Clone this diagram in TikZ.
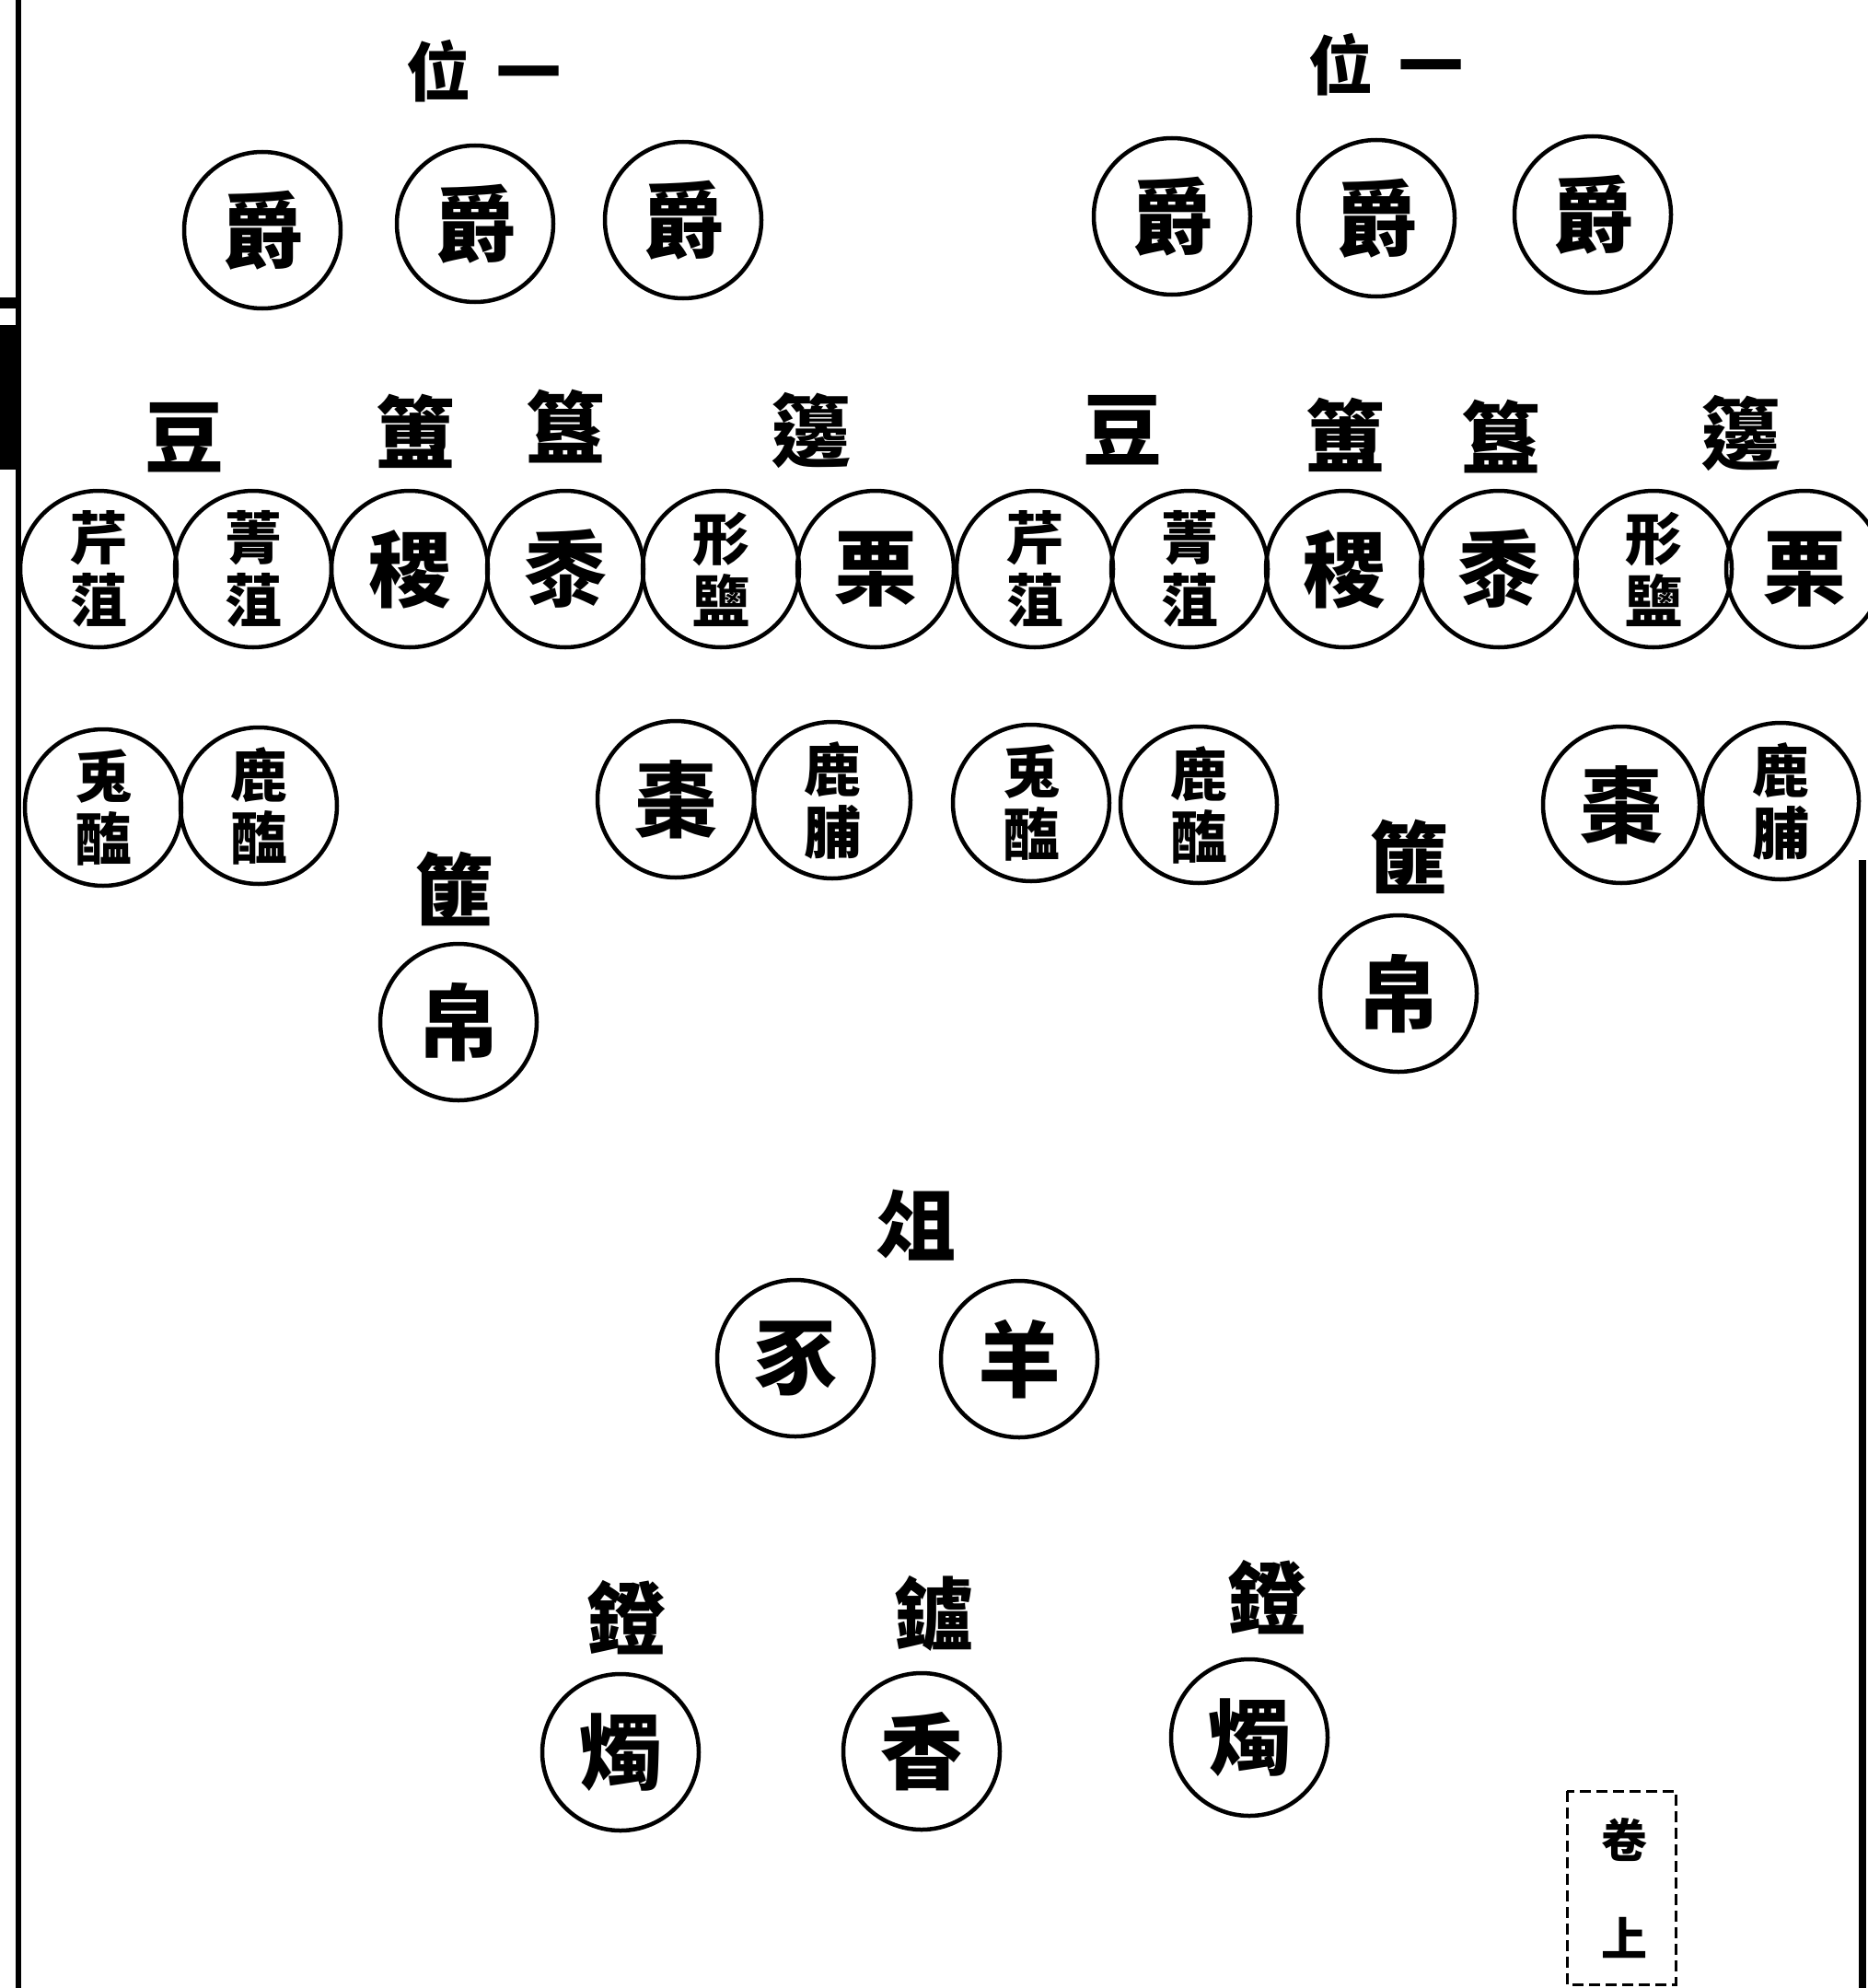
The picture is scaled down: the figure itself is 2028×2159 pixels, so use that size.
\documentclass[tikz,border=0pt]{standalone}
\usepackage{fontspec}
\newfontfamily\cjk{Noto Sans CJK TC}
\begin{document}
\begin{tikzpicture}[x=1pt,y=-1pt,
  dish/.style={circle, draw, line width=4.5pt, minimum size=170pt, inner sep=0pt,
    font=\cjk\bfseries\fontsize{90}{90}\selectfont},
  twin/.style={dish, align=center, font=\cjk\bfseries\fontsize{62}{68}\selectfont},
  lbl/.style={inner sep=0pt, font=\cjk\bfseries\fontsize{86}{86}\selectfont},
  toplbl/.style={inner sep=0pt, font=\cjk\bfseries\fontsize{70}{70}\selectfont},
  tiny/.style={inner sep=0pt, font=\cjk\bfseries\fontsize{50}{50}\selectfont}]
\useasboundingbox (0,0) rectangle (2028,2159);
% page edges
\draw[line width=6pt] (20,0) -- (20,2159);
\fill (0,353) rectangle (21,510);
\fill (0,323) rectangle (18,335);
\draw[line width=8pt] (2023,934) -- (2023,2159);
% titles
\node[toplbl] (tL) at (525,77) {位\hspace{28pt}一};
\node[toplbl] (tR) at (1505,70) {位\hspace{28pt}一};
% jue cups
\node[dish] (jL1) at (285,250) {爵};
\node[dish] (jL2) at (516,243) {爵};
\node[dish] (jL3) at (742,239) {爵};
\node[dish] (jR1) at (1273,235) {爵};
\node[dish] (jR2) at (1495,237) {爵};
\node[dish] (jR3) at (1730,233) {爵};
% vessel labels
\node[lbl] (dL) at (200,475) {豆};
\node[lbl] (fL) at (451,468) {簠};
\node[lbl] (gL) at (614,463) {簋};
\node[lbl] (bL) at (881,467) {籩};
\node[lbl] (dR) at (1219,467) {豆};
\node[lbl] (fR) at (1461,472) {簠};
\node[lbl] (gR) at (1630,474) {簋};
\node[lbl] (bR) at (1891,470) {籩};
% row of twelve
\node[twin] (a1) at (107,618) {芹\\菹};
\node[twin] (a2) at (275,618) {菁\\菹};
\node[dish] (a3) at (445,618) {稷};
\node[dish] (a4) at (614,618) {黍};
\node[twin] (a5) at (783,618) {形\\鹽};
\node[dish] (a6) at (951,618) {栗};
\node[twin] (a7) at (1124,618) {芹\\菹};
\node[twin] (a8) at (1292,618) {菁\\菹};
\node[dish] (a9) at (1460,618) {稷};
\node[dish] (a10) at (1628,618) {黍};
\node[twin] (a11) at (1796,618) {形\\鹽};
\node[dish] (a12) at (1960,618) {栗};
% third row
\node[twin] (b1) at (112,877) {兎\\醢};
\node[twin] (b2) at (281,875) {鹿\\醢};
\node[dish] (b3) at (734,868) {棗};
\node[twin] (b4) at (904,869) {鹿\\脯};
\node[twin] (b5) at (1120,872) {兎\\醢};
\node[twin] (b6) at (1302,874) {鹿\\醢};
\node[dish] (b7) at (1761,874) {棗};
\node[twin] (b8) at (1934,870) {鹿\\脯};
% silk baskets
\node[lbl] (kL) at (493,965) {篚};
\node[dish] (sL) at (498,1110) {帛};
\node[lbl] (kR) at (1530,930) {篚};
\node[dish] (sR) at (1519,1079) {帛};
% stand
\node[lbl] (zu) at (995,1331) {俎};
\node[dish] (pig) at (864,1475) {豕};
\node[dish] (sheep) at (1107,1476) {羊};
% lamps and censer
\node[lbl] (dgL) at (680,1757) {鐙};
\node[lbl] (lu) at (1014,1752) {鑪};
\node[lbl] (dgR) at (1376,1735) {鐙};
\node[dish] (zhL) at (674,1903) {燭};
\node[dish] (xiang) at (1001,1902) {香};
\node[dish] (zhR) at (1357,1887) {燭};
% small dashed box
\draw[line width=3pt, dash pattern=on 12pt off 6pt] (1702,1945) rectangle (1820,2155);
\node[tiny] (m1) at (1764,1998) {卷};
\node[tiny] (m2) at (1764,2104) {上};
\end{tikzpicture}
\end{document}
